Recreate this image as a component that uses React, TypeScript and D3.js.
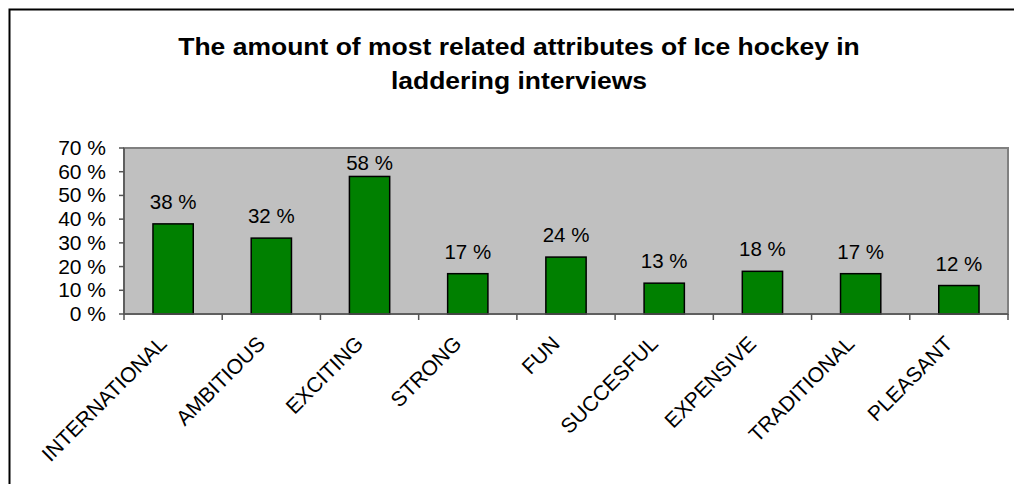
import React from "react";
import * as d3 from "d3";

const categories = ["INTERNATIONAL", "AMBITIOUS", "EXCITING", "STRONG", "FUN", "SUCCESFUL", "EXPENSIVE", "TRADITIONAL", "PLEASANT"];
const values = [38, 32, 58, 17, 24, 13, 18, 17, 12];
const yTicks = [0, 10, 20, 30, 40, 50, 60, 70];
const titleLines = ["The amount of most related attributes of Ice hockey in", "laddering interviews"];

const W = 1014, H = 484;
const plot = { left: 124, right: 1008, top: 148, bottom: 314 };
const font = "'Liberation Sans', Arial, sans-serif";

export default function App() {
  const x = d3.scaleBand<string>().domain(categories).range([plot.left, plot.right]);
  const y = d3.scaleLinear().domain([0, 70]).range([plot.bottom, plot.top]);
  const bw = x.bandwidth() * 0.41;
  const sy = 0.89;
  return (
    <svg width={W} height={H} style={{ position: "absolute", left: 0, top: 0 }} fontFamily={font}>
      <rect x={0} y={0} width={W} height={H} fill="#fff" />
      <rect x={9.5} y={9.5} width={1100} height={600} fill="#fff" stroke="#000" strokeWidth={2} />
      {titleLines.map((t, i) => (
        <text key={i} x={519} y={0} textAnchor="middle" fontSize={26.5} fontWeight="bold" fill="#000"
          transform={`translate(0,${55 + i * 34}) scale(1,${sy})`}>{t}</text>
      ))}
      <rect x={plot.left} y={plot.top} width={plot.right - plot.left} height={plot.bottom - plot.top} fill="#C0C0C0" stroke="#808080" strokeWidth={2} />
      {categories.map((c, i) => {
        const cx = x(c)! + x.bandwidth() / 2;
        const top = y(values[i]);
        const ly = Math.max(top - 15, plot.top + 22);
        return (
          <g key={c}>
            <rect x={cx - bw / 2} y={top} width={bw} height={plot.bottom - top} fill="#008000" stroke="#000" strokeWidth={1.5} />
            <text x={cx} y={ly} textAnchor="middle" fontSize={20.5} fill="#000">{values[i]} %</text>
            <text transform={`translate(${cx - 5},${plot.bottom + 31}) rotate(-45)`} textAnchor="end" fontSize={21} fill="#000">{c}</text>
          </g>
        );
      })}
      <line x1={plot.left} x2={plot.left} y1={plot.top} y2={plot.bottom} stroke="#555" strokeWidth={1.5} />
      <line x1={plot.left} x2={plot.right} y1={plot.bottom} y2={plot.bottom} stroke="#555" strokeWidth={1.5} />
      {yTicks.map(t => (
        <g key={t}>
          <line x1={plot.left - 5} x2={plot.left} y1={y(t)} y2={y(t)} stroke="#555" strokeWidth={1.5} />
          <text x={plot.left - 18} y={y(t) + 7} textAnchor="end" fontSize={21} fill="#000">{t} %</text>
        </g>
      ))}
      {categories.map(c => (
        <line key={c} x1={x(c)!} x2={x(c)!} y1={plot.bottom} y2={plot.bottom + 6} stroke="#555" strokeWidth={1.5} />
      ))}
      <line x1={plot.right} x2={plot.right} y1={plot.bottom} y2={plot.bottom + 6} stroke="#555" strokeWidth={1.5} />
    </svg>
  );
}
